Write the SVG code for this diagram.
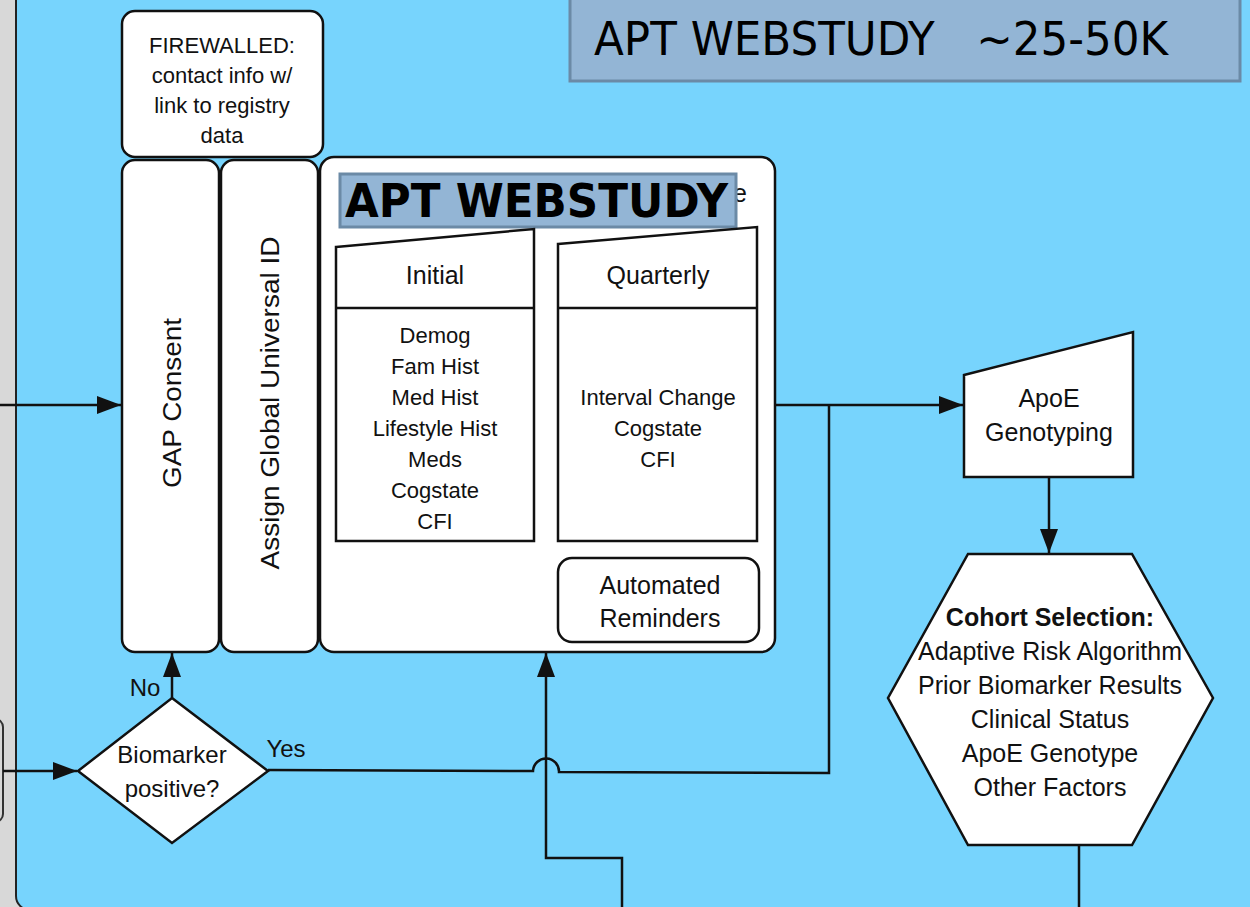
<svg xmlns="http://www.w3.org/2000/svg" width="1250" height="907" viewBox="0 0 1250 907">
<defs>
<style>
.box{fill:#fff;stroke:#111;stroke-width:2.5}
.t{font-family:"Liberation Sans",Arial,Helvetica,sans-serif;fill:#111;text-anchor:middle}
.f22{font-size:22px}
.f24{font-size:24px}
.f25{font-size:25px}
.conn{fill:none;stroke:#111;stroke-width:2.5}
.band{fill:#93B5D5;stroke:#6B8AA6;stroke-width:3}
</style>
<marker id="ah" markerUnits="userSpaceOnUse" markerWidth="24" markerHeight="18" viewBox="0 0 24 18" refX="24" refY="9" orient="auto">
<path d="M0,0 L24,9 L0,18 Z" fill="#111"/>
</marker>
</defs>
<rect x="0" y="0" width="1250" height="907" fill="#D8D8D8"/>
<rect x="16" y="-30" width="1300" height="940" rx="14" fill="#77D4FD" stroke="#222" stroke-width="2"/>
<rect x="-50" y="719" width="53" height="103" rx="8" fill="#D8D8D8" stroke="#333" stroke-width="2"/>

<g id="title-band">
<rect class="band" x="570" y="-6" width="670" height="87"/>
<text x="594" y="55" font-family="'DejaVu Sans',Verdana,sans-serif" font-size="46" fill="#000" textLength="574" lengthAdjust="spacingAndGlyphs" xml:space="preserve">APT WEBSTUDY   ~25-50K</text>
</g>

<g id="firewalled">
<rect class="box" x="122" y="11" width="201" height="146" rx="13"/>
<text class="t f22" x="222" y="53">FIREWALLED:</text>
<text class="t f22" x="222" y="83">contact info w/</text>
<text class="t f22" x="222" y="113">link to registry</text>
<text class="t f22" x="222" y="143">data</text>
</g>

<g id="gap-consent">
<rect class="box" x="122" y="160" width="97" height="492" rx="13"/>
<text class="t f25" transform="translate(181,403) rotate(-90)" textLength="170" lengthAdjust="spacingAndGlyphs">GAP Consent</text>
</g>

<g id="assign-guid">
<rect class="box" x="221" y="160" width="97" height="492" rx="13"/>
<text class="t f25" transform="translate(279,403) rotate(-90)" textLength="333" lengthAdjust="spacingAndGlyphs">Assign Global Universal ID</text>
</g>

<g id="webstudy">
<rect class="box" x="320" y="157" width="455" height="495" rx="14"/>
<text class="f25" x="733" y="202" font-family="'Liberation Sans',Arial,sans-serif" fill="#111">e</text>
<rect class="band" x="340" y="174" width="396" height="53" stroke-width="2.5"/>
<text x="345" y="217" font-family="'DejaVu Sans',Verdana,sans-serif" font-weight="bold" font-size="46" fill="#000" textLength="383" lengthAdjust="spacingAndGlyphs">APT WEBSTUDY</text>
</g>

<g id="initial">
<polygon class="box" points="336,247 534,229 534,541 336,541"/>
<line x1="336" y1="308" x2="534" y2="308" stroke="#111" stroke-width="2.5"/>
<text class="t f25" x="435" y="284">Initial</text>
<text class="t f22" x="435" y="343">Demog</text>
<text class="t f22" x="435" y="374">Fam Hist</text>
<text class="t f22" x="435" y="405">Med Hist</text>
<text class="t f22" x="435" y="436">Lifestyle Hist</text>
<text class="t f22" x="435" y="467">Meds</text>
<text class="t f22" x="435" y="498">Cogstate</text>
<text class="t f22" x="435" y="529">CFI</text>
</g>

<g id="quarterly">
<polygon class="box" points="558,244 757,227 757,541 558,541"/>
<line x1="558" y1="308" x2="757" y2="308" stroke="#111" stroke-width="2.5"/>
<text class="t f25" x="658" y="284">Quarterly</text>
<text class="t f22" x="658" y="405">Interval Change</text>
<text class="t f22" x="658" y="436">Cogstate</text>
<text class="t f22" x="658" y="467">CFI</text>
</g>

<g id="reminders">
<rect class="box" x="558" y="558" width="201" height="84" rx="14"/>
<text class="t f25" x="660" y="594">Automated</text>
<text class="t f25" x="660" y="627">Reminders</text>
</g>

<g id="biomarker">
<polygon class="box" points="172,698 268,771 172,843 78,771"/>
<text class="t f24" x="172" y="763">Biomarker</text>
<text class="t f24" x="172" y="797">positive?</text>
</g>

<g id="apoe">
<polygon class="box" points="964,375 1133,332 1133,477 964,477"/>
<text class="t f25" x="1049" y="407">ApoE</text>
<text class="t f25" x="1049" y="441">Genotyping</text>
</g>

<g id="cohort">
<polygon class="box" points="968,554 1132,554 1213,698 1132,845 968,845 888,698"/>
<text class="t f25" x="1050" y="626" font-weight="bold">Cohort Selection:</text>
<text class="t f25" x="1050" y="660">Adaptive Risk Algorithm</text>
<text class="t f25" x="1050" y="694">Prior Biomarker Results</text>
<text class="t f25" x="1050" y="728">Clinical Status</text>
<text class="t f25" x="1050" y="762">ApoE Genotype</text>
<text class="t f25" x="1050" y="796">Other Factors</text>
</g>

<g id="connectors">
<path class="conn" d="M0,405 H121" marker-end="url(#ah)"/>
<path class="conn" d="M3,771 H77" marker-end="url(#ah)"/>
<path class="conn" d="M172,698 V653" marker-end="url(#ah)"/>
<path class="conn" d="M775,405 H963" marker-end="url(#ah)"/>
<path class="conn" d="M268,770 L533,771 A13,13 0 0 1 559,772 L829,773 V405"/>
<path class="conn" d="M622,910 V858 H546 V653" marker-end="url(#ah)"/>
<path class="conn" d="M1049,477 V553" marker-end="url(#ah)"/>
<path class="conn" d="M1079,845 V910"/>
</g>

<g id="labels">
<text class="t f24" x="145" y="696">No</text>
<text class="t f24" x="286" y="757">Yes</text>
</g>
</svg>
